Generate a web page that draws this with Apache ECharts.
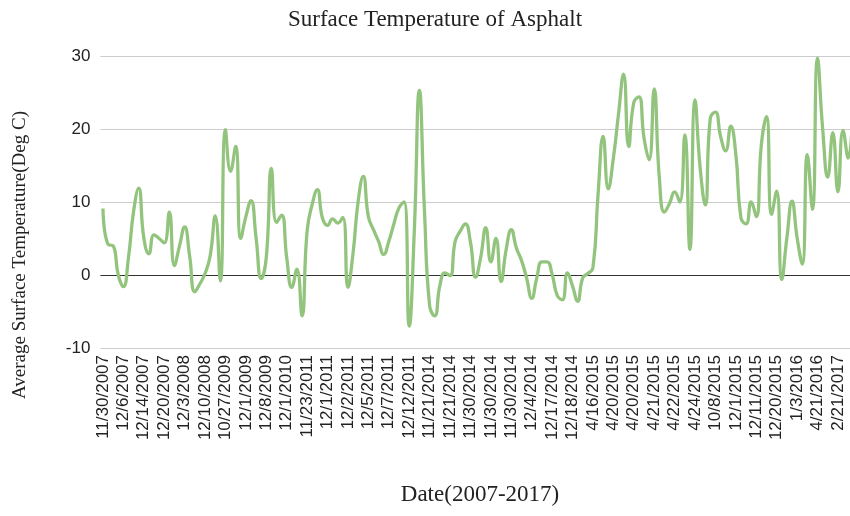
<!DOCTYPE html>
<html lang="en">
<head>
<meta charset="utf-8">
<title>Surface Temperature of Asphalt</title>
<script src="https://cdn.jsdelivr.net/npm/echarts@6/dist/echarts.min.js"></script>
<style>
  html, body { margin: 0; padding: 0; background: #fff; }
  #chart { width: 850px; height: 516px; }
</style>
</head>
<body>
<div id="chart"></div>

<!-- labelled dates, one every 4 readings -->
<script>
var labelDates = [
  '11/30/2007', '12/6/2007', '12/14/2007', '12/20/2007', '12/3/2008', '12/10/2008',
  '10/27/2009', '12/1/2009', '12/8/2009', '12/1/2010', '11/23/2011', '12/1/2011',
  '12/2/2011', '12/5/2011', '12/7/2011', '12/12/2011', '11/21/2014', '11/21/2014',
  '11/30/2014', '11/30/2014', '11/30/2014', '12/4/2014', '12/17/2014', '12/18/2014',
  '4/16/2015', '4/20/2015', '4/20/2015', '4/21/2015', '4/22/2015', '4/24/2015',
  '10/8/2015', '12/1/2015', '12/11/2015', '12/20/2015', '1/3/2016', '4/21/2016',
  '2/21/2017'
];

// average surface temperature, deg C
var temps2007to2011 = [
  9.1, 4.2, 4.0, 0.0, -1.6, 2.4, 8.7, 11.9, 5.1, 2.9,
  5.5, 5.0, 4.4, 8.6, 1.3, 4.0, 6.6, 2.5, -2.3, -1.2,
  0.2, 2.6, 8.1, -0.8, 19.9, 14.2, 17.6, 5.0, 8.0, 10.2,
  5.1, -0.5, 2.4, 14.6, 7.2, 8.2, 2.4, -1.7, 0.8, -5.6,
  6.0, 9.7, 11.7, 7.8, 6.8, 7.7, 7.1, 7.9, -1.7, 3.0,
  10.1, 13.5, 8.0, 6.2, 4.6, 2.8, 4.6, 7.0, 9.2, 10.0,
  -7.0, 6.0, 25.3, 8.7
];
var temps2014 = [
  -4.2, -5.6, -1.5, 0.3, -0.1, 4.6, 6.0, 7.0, 4.5, -0.3,
  2.4, 6.5, 1.8, 5.0, -0.9, 3.5, 6.2, 3.7, 2.0, -0.4,
  -3.2, -0.4, 1.8, 1.8, 0.1, -2.8, -3.4, 0.3, -1.5, -3.6,
  -0.4, 0.2, 1.0
];
var temps2015to2017 = [
  11.0, 19.0, 11.8, 16.0, 22.0, 27.5, 17.6, 23.6, 24.4, 18.8,
  15.8, 25.5, 13.4, 8.6, 9.8, 11.4, 10.0, 19.2, 3.5, 24.0,
  14.7, 9.6, 21.5, 22.3, 19.0, 17.0, 20.4, 16.5, 7.8, 7.0,
  10.0, 8.0, 17.9, 21.7, 8.3, 11.5, -0.6, 5.1, 10.1, 5.1,
  1.5, 16.5, 9.0, 29.7, 20.1, 13.4, 19.5, 11.4, 19.8, 16.0,
  24.0
];

var yTicks = [-10, 0, 10, 20, 30];

// every labelled date stands for 4 readings
var categories = [];
labelDates.forEach(function (d) { categories.push(d, d, d, d); });
var temps = temps2007to2011.concat(temps2014, temps2015to2017);

var chart = echarts.init(document.getElementById('chart'));

var option = {
  animation: false,
  backgroundColor: '#fff',
  title: {
    text: 'Surface Temperature of Asphalt',
    left: 430,
    top: 3,
    textAlign: 'center',
    textStyle: { fontFamily: 'Liberation Serif', fontSize: 23, fontWeight: 'normal', color: '#222' }
  },
  // plot runs past the right edge of the picture, like the reference
  grid: {
    left: 100.4, width: 755.4, top: 56, bottom: 168,
    containLabel: false, outerBoundsMode: 'none'
  },
  xAxis: {
    type: 'category',
    data: categories,
    boundaryGap: true,
    axisLine: { show: false },
    axisTick: { show: false },
    axisLabel: {
      interval: 3,
      rotate: 90,
      margin: 7,
      fontFamily: 'Liberation Sans',
      fontSize: 17,
      color: '#222'
    },
    splitLine: { show: false }
  },
  yAxis: {
    type: 'value',
    min: yTicks[0],
    max: yTicks[yTicks.length - 1],
    interval: 10,
    axisLine: { show: false },
    axisTick: { show: false },
    axisLabel: { margin: 10, fontFamily: 'Liberation Sans', fontSize: 17, color: '#222' },
    splitLine: {
      show: true,
      lineStyle: { color: ['#cccccc', '#333333', '#cccccc', '#cccccc', '#cccccc'], width: 1 }
    }
  },
  graphic: [
    {
      type: 'text',
      x: 20, y: 255,
      rotation: Math.PI / 2,
      style: {
        text: 'Average Surface Temperature(Deg C)',
        fontFamily: 'Liberation Serif', fontSize: 19, fill: '#222',
        align: 'center', verticalAlign: 'middle'
      }
    },
    {
      type: 'text',
      x: 480, y: 495,
      style: {
        text: 'Date(2007-2017)',
        fontFamily: 'Liberation Serif', fontSize: 23, fill: '#222',
        align: 'center', verticalAlign: 'middle'
      }
    }
  ],
  series: [
    {
      name: 'Average Surface Temperature',
      type: 'line',
      data: temps,
      smooth: 0.5,
      showSymbol: false,
      lineStyle: { color: '#93c47d', width: 3.3 },
      itemStyle: { color: '#93c47d' }
    }
  ]
};
chart.setOption(option);
</script>
</body>
</html>
